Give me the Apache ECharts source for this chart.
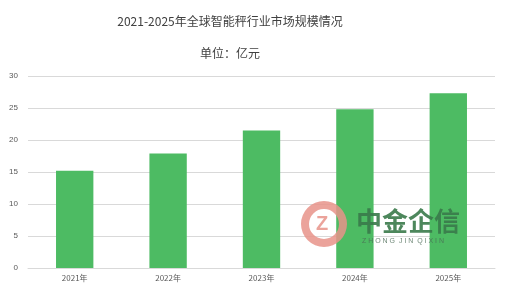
<!DOCTYPE html>
<html><head><meta charset="utf-8">
<script src="https://cdn.jsdelivr.net/npm/echarts@6/dist/echarts.min.js"></script>
<style>html,body{margin:0;padding:0;background:#fff}#c{width:512px;height:292px}</style>
</head><body><div id="c"></div>
<script>
var categories = ['2021年','2022年','2023年','2024年','2025年'];
var values = [15.2, 17.9, 21.5, 24.8, 27.3];
var yTicks = [0, 5, 10, 15, 20, 25, 30];
var titleText = '2021-2025年全球智能秤行业市场规模情况';
var subText = '单位：亿元';

var chart = echarts.init(document.getElementById('c'));
chart.setOption({
  animation: false,
  backgroundColor: '#ffffff',
  title: [
    {text: titleText, left: 225, top: 10, textAlign: 'center',
     textStyle: {fontFamily: 'Noto Sans CJK SC', fontSize: 12, fontWeight: 'normal', color: '#404040'}},
    {text: subText, left: 225, top: 42, textAlign: 'center',
     textStyle: {fontFamily: 'Noto Sans CJK SC', fontSize: 12, fontWeight: 'normal', color: '#404040'}}
  ],
  grid: {left: 28, right: 17, top: 76, bottom: 24, containLabel: false},
  xAxis: {
    type: 'category', data: categories,
    axisLine: {lineStyle: {color: '#d9d9d9'}}, axisTick: {show: false},
    axisLabel: {color: '#595959', fontSize: 8, margin: 6, fontFamily: 'Noto Sans CJK SC'}
  },
  yAxis: {
    type: 'value', min: yTicks[0], max: yTicks[yTicks.length-1], interval: 5,
    axisLine: {show: false}, axisTick: {show: false},
    axisLabel: {color: '#595959', fontSize: 8, margin: 10},
    splitLine: {lineStyle: {color: '#d9d9d9', width: 1}}
  },
  series: [{
    type: 'bar', data: values, barWidth: '40%',
    itemStyle: {color: '#4dbb63'}
  }],
  graphic: [
    {type: 'ring', shape: {cx: 324, cy: 224, r: 23, r0: 15}, style: {fill: '#e8938a', opacity: 0.85}, z: 10},
    {type: 'text', x: 316, y: 214, style: {text: 'Z', font: 'bold 20px sans-serif', fill: '#e8938a', opacity: 0.85}, z: 10},
    {type: 'text', x: 356, y: 208, style: {text: '中金企信', font: 'bold 26px "Noto Sans CJK SC"', fill: '#3a7a4a', opacity: 0.9}, z: 10},
    {type: 'text', x: 362, y: 238, style: {text: 'Z H O N G  J I N  Q I X I N', font: '7px sans-serif', fill: '#4a6a55', opacity: 0.8}, z: 10}
  ]
});
</script></body></html>
